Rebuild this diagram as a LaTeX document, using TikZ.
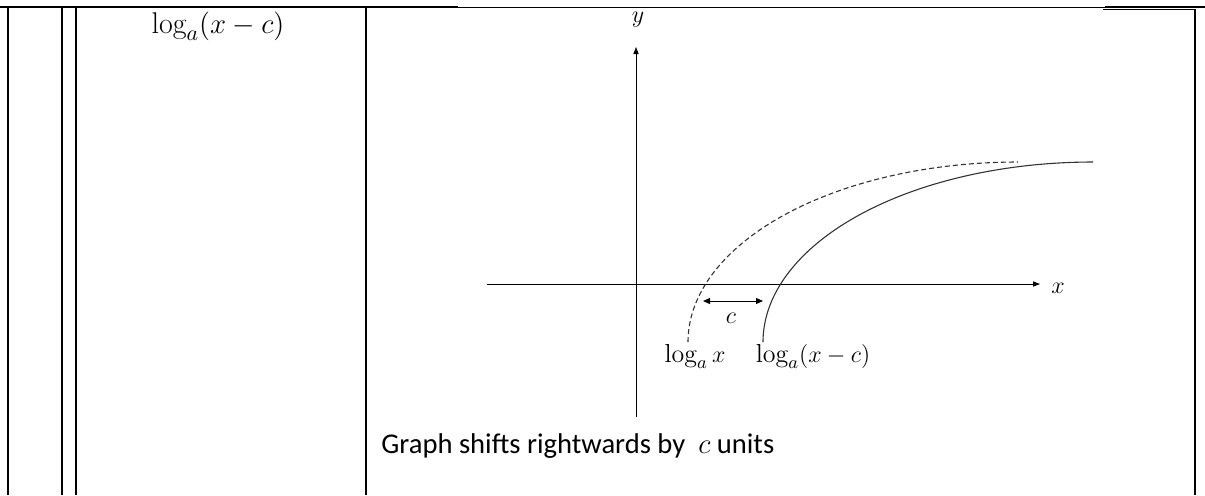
\documentclass[tikz,border=0pt]{standalone}
\usepackage{fontspec}
\newfontfamily\carlito{Carlito}
\usetikzlibrary{arrows.meta}

\begin{document}
\begin{tikzpicture}[x=0.5pt,y=-0.5pt,
  rule/.style={line width=1pt},
  axis/.style={line width=0.5pt,-{Triangle[length=3.5pt,width=2.6pt]}},
  curve/.style={line width=0.55pt,black!80,smooth,samples=100,domain=180:270},
  lbl/.style={inner sep=0pt,anchor=base,font=\fontsize{13}{15}\selectfont}]
  \useasboundingbox (0,0) rectangle (1205,495);
  % table rules
  \draw[line width=1.2pt] (0,7) -- (458,7) (1105,7) -- (1205,7);
  \draw[line width=0.9pt] (458,7.5) -- (1105,7.5);
  \draw[line width=0.5pt] (1103,9.5) -- (1195,9.5);
  \foreach \c in {8,62,76,366} \draw[rule] (\c,7) -- (\c,495);
  \draw[rule] (1195,9) -- (1195,495);
  \node[lbl,font=\fontsize{15}{18}\selectfont] (head) at (218,33) {$\log_a(x-c)$};
  % axes
  \coordinate (xmin) at (487,284);
  \coordinate (xmax) at (1040,284);
  \coordinate (ymin) at (636,417);
  \coordinate (ymax) at (636,47);
  \draw[axis] (xmin) -- (xmax);
  \draw[axis] (ymin) -- (ymax);
  \node[lbl] (xlab) at (1058,293) {$x$};
  \node[lbl] (ylab) at (638,22) {$y$};
  % log curves (dashed one is the solid one moved left by c)
  \draw[curve,dash pattern=on 2.5pt off 1.5pt] plot ({1018+330*cos(\x)},{342+180*sin(\x)});
  \draw[curve] plot ({1093+330*cos(\x)},{342+180*sin(\x)});
  % shift
  \coordinate (ca) at (703,301);
  \coordinate (cb) at (763,301);
  \draw[line width=0.5pt,{Triangle[length=3.5pt,width=3pt]}-{Triangle[length=3.5pt,width=3pt]}] (ca) -- (cb);
  \node[lbl] (clab) at (731,323) {$c$};
  \node[lbl] (lx) at (695,362) {$\log_a x$};
  \node[lbl] (lxc) at (813,362) {$\log_a(x-c)$};
  \node[anchor=base west,inner sep=0pt,font=\carlito\fontsize{14.3}{17}\selectfont] (note) at (381,453) {Graph shifts rightwards by\ \ $c$ units};
\end{tikzpicture}
\end{document}
